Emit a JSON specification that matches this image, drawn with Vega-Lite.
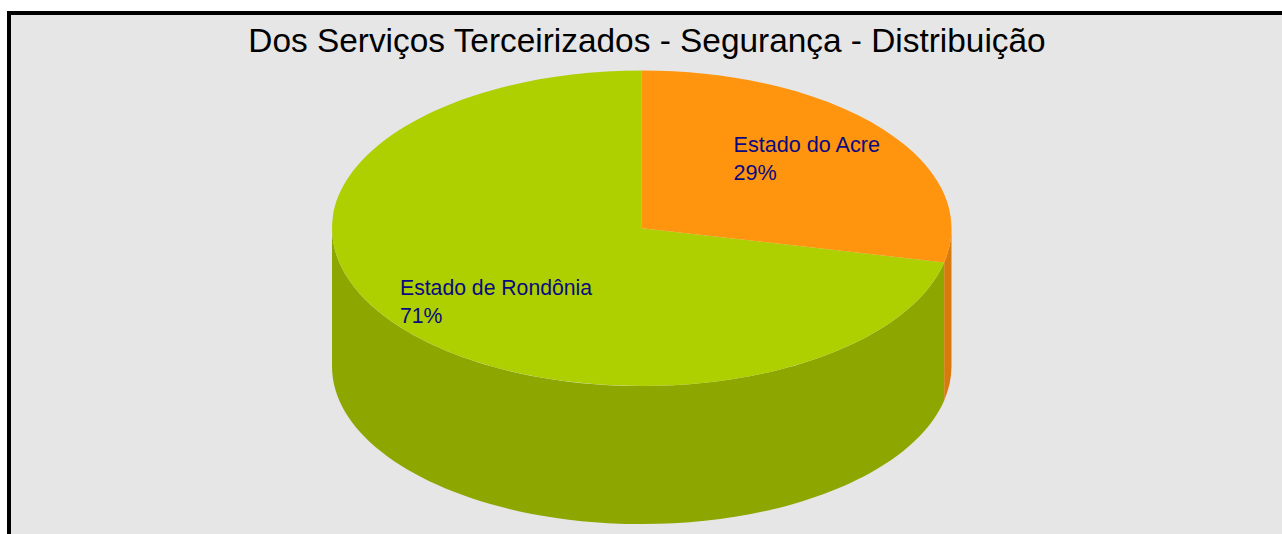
{
  "$schema": "https://vega.github.io/schema/vega-lite/v6.json",
  "width": 1273,
  "height": 521,
  "autosize": {"type": "none"},
  "padding": {"left": 9, "top": 13, "right": 0, "bottom": 0},
  "background": "white",
  "view": {"fill": "#e6e6e6", "stroke": "black", "strokeWidth": 4, "strokeDash": [1273, 1794, 521]},
  "config": {
    "view": {"fill": "#e6e6e6", "stroke": "black", "strokeWidth": 4, "strokeDash": [1273, 1794, 521]}
  },
  "data": {
    "values": [
      {"estado": "Estado do Acre", "percentual": 0.29},
      {"estado": "Estado de Rondônia", "percentual": 0.71}
    ]
  },
  "resolve": {"scale": {"color": "independent"}},
  "layer": [
    {
      "transform": [{"filter": {"field": "estado", "equal": "Estado de Rondônia"}}],
      "mark": {"type": "point", "shape": "M -313.5,-45.25 A 309.75,157.75 0 0,0 298.7,-11.1 L 298.7,126.9 A 309.75,157.75 0 0,1 -313.5,92.75 Z", "size": 4, "filled": true, "opacity": 1, "strokeWidth": 0},
      "encoding": {"color": {"field": "estado", "type": "nominal", "scale": {"domain": ["Estado do Acre", "Estado de Rondônia"], "range": ["#D97A0C", "#8EA600"]}, "legend": null}}
    },
    {
      "transform": [{"filter": {"field": "estado", "equal": "Estado do Acre"}}],
      "mark": {"type": "point", "shape": "M 298.7,-11.1 A 309.75,157.75 0 0,0 306,-45.25 L 306,92.75 A 309.75,157.75 0 0,1 298.7,126.9 Z", "size": 4, "filled": true, "opacity": 1, "strokeWidth": 0},
      "encoding": {"color": {"field": "estado", "type": "nominal", "scale": {"domain": ["Estado do Acre", "Estado de Rondônia"], "range": ["#D97A0C", "#8EA600"]}, "legend": null}}
    },
    {
      "transform": [{"filter": {"field": "estado", "equal": "Estado de Rondônia"}}],
      "mark": {"type": "point", "shape": "M -3.75,-45.25 L -3.75,-203 A 309.75,157.75 0 1,0 298.7,-11.1 Z", "size": 4, "filled": true, "opacity": 1, "strokeWidth": 0},
      "encoding": {"color": {"field": "estado", "type": "nominal", "scale": {"domain": ["Estado do Acre", "Estado de Rondônia"], "range": ["#FF950E", "#AECF00"]}, "legend": null}}
    },
    {
      "transform": [{"filter": {"field": "estado", "equal": "Estado do Acre"}}],
      "mark": {"type": "point", "shape": "M -3.75,-45.25 L -3.75,-203 A 309.75,157.75 0 0,1 298.7,-11.1 Z", "size": 4, "filled": true, "opacity": 1, "strokeWidth": 0},
      "encoding": {"color": {"field": "estado", "type": "nominal", "scale": {"domain": ["Estado do Acre", "Estado de Rondônia"], "range": ["#FF950E", "#AECF00"]}, "legend": null}}
    },
    {
      "transform": [{"filter": {"field": "estado", "equal": "Estado do Acre"}}],
      "mark": {"type": "text", "align": "left", "baseline": "alphabetic", "dx": 88, "dy": -121.5, "font": "Liberation Sans", "fontSize": 21.6, "color": "#0A0A80"},
      "encoding": {"text": {"field": "estado", "type": "nominal"}}
    },
    {
      "transform": [{"filter": {"field": "estado", "equal": "Estado do Acre"}}],
      "mark": {"type": "text", "align": "left", "baseline": "alphabetic", "dx": 88, "dy": -93.5, "font": "Liberation Sans", "fontSize": 21.6, "color": "#0A0A80"},
      "encoding": {"text": {"field": "percentual", "type": "quantitative", "format": ".0%"}}
    },
    {
      "transform": [{"filter": {"field": "estado", "equal": "Estado de Rondônia"}}],
      "mark": {"type": "text", "align": "left", "baseline": "alphabetic", "dx": -245.5, "dy": 21.5, "font": "Liberation Sans", "fontSize": 21.2, "color": "#0A0A80"},
      "encoding": {"text": {"field": "estado", "type": "nominal"}}
    },
    {
      "transform": [{"filter": {"field": "estado", "equal": "Estado de Rondônia"}}],
      "mark": {"type": "text", "align": "left", "baseline": "alphabetic", "dx": -245.5, "dy": 49, "font": "Liberation Sans", "fontSize": 21.2, "color": "#0A0A80"},
      "encoding": {"text": {"field": "percentual", "type": "quantitative", "format": ".0%"}}
    },
    {
      "data": {"values": [{"titulo": "Dos Serviços Terceirizados - Segurança - Distribuição"}]},
      "mark": {"type": "text", "align": "center", "baseline": "alphabetic", "dx": 1.5, "dy": -222, "font": "Liberation Sans", "fontSize": 33.4, "color": "black"},
      "encoding": {"text": {"field": "titulo", "type": "nominal"}}
    }
  ]
}
